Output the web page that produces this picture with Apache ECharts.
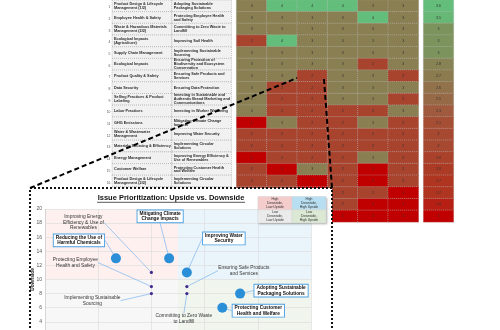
<!DOCTYPE html>
<html><head><meta charset="utf-8">
<script src="https://cdn.jsdelivr.net/npm/echarts@6/dist/echarts.min.js"></script>
<style>html,body{margin:0;padding:0;background:#fff}#c{width:500px;height:330px}</style>
</head><body><div id="c"></div>
<script>
// ---------- DATA ----------
const rowNumbers = ['1','2','3','4','5','6','7','8','9','10','11','12','13','14','15','16','17','18','19'];
const issues = [
  'Product Design & Lifecycle\nManagement (1/2)',
  'Employee Health & Safety',
  'Waste & Hazardous Materials\nManagement (2/2)',
  'Ecological Impacts\n(Agriculture)',
  'Supply Chain Management',
  'Ecological Impacts',
  'Product Quality & Safety',
  'Data Security',
  'Selling Practices & Product\nLabeling',
  'Labor Practices',
  'GHG Emissions',
  'Water & Wastewater\nManagement',
  'Materials Sourcing & Efficiency',
  'Energy Management',
  'Customer Welfare',
  'Product Design & Lifecycle\nManagement (2/2)',
  '', '', ''
];
const solutions = [
  'Adopting Sustainable\nPackaging Solutions',
  'Protecting Employee Health\nand Safety',
  'Committing to Zero Waste to\nLandfill',
  'Improving Soil Health',
  'Implementing Sustainable\nSourcing',
  'Ensuring Protection of\nBiodiversity and Ecosystem\nConservation',
  'Ensuring Safe Products and\nServices',
  'Ensuring Data Protection',
  'Investing in Sustainable and\nAuthentic Brand Marketing and\nCommunications',
  'Investing in Worker Wellbeing',
  'Mitigating Climate Change\nImpacts',
  'Improving Water Security',
  'Implementing Circular\nSolutions',
  'Improving Energy Efficiency &\nUse of Renewables',
  'Protecting Customer Health\nand Welfare',
  'Implementing Circular\nSolutions',
  '', '', ''
];
const criteria = ['C1','C2','C3','C4','C5','C6'];
const ratings = [
  [3,4,4,4,3,3],
  [3,3,3,3,4,3],
  [3,3,3,3,3,3],
  [2,4,3,3,3,3],
  [3,3,3,3,3,3],
  [3,3,3,3,2,3],
  [3,3,2,3,3,2],
  [3,2,2,3,3,3],
  [3,2,2,3,3,2],
  [3,2,2,2,2,3],
  [1,3,2,2,3,2],
  [2,2,2,2,2,2],
  [2,2,2,2,2,2],
  [1,2,2,2,3,2],
  [2,1,3,2,1,2],
  [2,2,1,2,1,2],
  [2,2,1,2,2,1],
  [2,1,1,2,1,1],
  [1,1,1,1,1,1]
];
const scores = [3.6,3.5,3,3,3,2.8,2.7,2.6,2.5,2.3,2.1,2,2,1.9,1.8,1.7,1.7,1.4,1];

const keyNames = ['Reducing the Use of\nHarmful Chemicals','Mitigating Climate\nChange Impacts','Improving Water\nSecurity','Adopting Sustainable\nPackaging Solutions','Protecting Customer\nHealth and Welfare'];
const keyUpside = [4,7,8,11,10];
const keyDownside = [13,13,11,8,6];

const otherNames = ['Improving Energy\nEfficiency & Use of\nRenewables','Protecting Employee\nHealth and Safety','Implementing Sustainable\nSourcing','Ensuring Safe Products\nand Services','Committing to Zero Waste\nto Landfill'];
const otherUpside = [6,6,6,8,8];
const otherDownside = [11,9,8,9,8];

const upsideRange = [0,15];
const downsideRange = [0,20];
const upsideSplit = 7.5;
const downsideSplit = 10;

const quadrantLabels = ['High\nDownside,\nLow Upside','High\nDownside,\nHigh Upside','Low\nDownside,\nLow Upside','Low\nDownside,\nHigh Upside'];

// ---------- LAYOUT / STYLE ----------
const FONT = '"Liberation Sans", Arial, sans-serif';
const keyLabelShift = [[-37,-18],[-9,-42],[37,-34],[41,-3],[36,3]];
const otherLabelShift = [[-68,-50],[-76,-24],[-59,7],[57,-16],[-3,25]];
const quadrantColors = ['#fdf0ef','#eaf5fb','#f7f7f7','#f0f6ee'];
const legendColors = ['#f4cccc','#b8def1','#ebebeb','#dbe8d3'];

const tableData = [];
issues.forEach((_, i) => { tableData.push([0, i]); tableData.push([1, i]); });
const heatData = [];
ratings.forEach((r, i) => r.forEach((v, j) => heatData.push([j, i, v])));
const scoreData = scores.map((v, i) => [0, i, v]);
const quadData = [
  [upsideRange[0], downsideSplit, upsideSplit, downsideRange[1], 0],
  [upsideSplit, downsideSplit, upsideRange[1], downsideRange[1], 1],
  [upsideRange[0], downsideRange[0], upsideSplit, downsideSplit, 2],
  [upsideSplit, downsideRange[0], upsideRange[1], downsideSplit, 3]
];

const chart = echarts.init(document.getElementById('c'), null, {renderer: 'canvas'});

const hiddenCat = (gi, data) => ({type:'category', gridIndex: gi, data, show:false});

// legend graphic
const lgX = 258, lgY = 196.5, lgW = 34, lgH = 13.3;
const legendEls = [];
legendEls.push({type:'rect', z:29, shape:{x:lgX, y:lgY, width:lgW*2, height:lgH*2},
  style:{fill:'#fff', shadowBlur:2, shadowColor:'rgba(0,0,0,0.35)', shadowOffsetX:1, shadowOffsetY:1}});
quadrantLabels.forEach((t, k) => {
  const cx = lgX + (k % 2) * lgW, cy = lgY + Math.floor(k / 2) * lgH;
  legendEls.push({type:'rect', z:30, shape:{x:cx, y:cy, width:lgW, height:lgH}, style:{fill:legendColors[k], stroke:'#d0d0d0', lineWidth:0.4}});
  legendEls.push({type:'text', z:31, x:cx + lgW/2, y:cy + lgH/2,
    style:{text:t, align:'center', verticalAlign:'middle', fontSize:3.4, lineHeight:3.9, fontFamily:FONT, fill:'#333'}});
});

const option = {
  animation: false,
  backgroundColor: '#fff',
  grid: [
    {left:112, top:0, width:119.5, height:222, outerBoundsMode:'none'},
    {left:236.5, top:0, width:182, height:222, outerBoundsMode:'none'},
    {left:423.5, top:0, width:30, height:222, outerBoundsMode:'none'},
    {left:45, top:209, width:266, height:141, outerBoundsMode:'none'}
  ],
  xAxis: [
    hiddenCat(0, ['Issue','Solution']),
    hiddenCat(1, criteria),
    hiddenCat(2, ['Score']),
    {type:'value', gridIndex:3, min:upsideRange[0], max:upsideRange[1], interval:3, z:12,
      axisLine:{show:false}, axisTick:{show:false}, axisLabel:{show:false},
      splitLine:{show:true, lineStyle:{color:'#dedede', width:0.7}}}
  ],
  yAxis: [
    {type:'category', gridIndex:0, data:rowNumbers, inverse:true,
      axisLine:{show:false}, axisTick:{show:false},
      axisLabel:{fontSize:3.4, color:'#555', margin:1.5, fontFamily:FONT, verticalAlign:'top'}},
    {type:'category', gridIndex:1, data:rowNumbers, inverse:true, show:false},
    {type:'category', gridIndex:2, data:rowNumbers, inverse:true, show:false},
    {type:'value', gridIndex:3, min:downsideRange[0], max:downsideRange[1], interval:2, z:12,
      name:'Downside', nameLocation:'middle', nameGap:10, nameRotate:90, nameMoveOverlap:false,
      nameTextStyle:{fontSize:4.8, fontWeight:'bold', color:'#222', fontFamily:FONT},
      axisLine:{show:true, lineStyle:{color:'#cfcfcf', width:0.7}}, axisTick:{show:false},
      axisLabel:{fontSize:5, color:'#555', margin:3, fontFamily:FONT},
      splitLine:{show:true, lineStyle:{color:'#dedede', width:0.7}}}
  ],
  visualMap: [
    {type:'continuous', show:false, seriesIndex:1, dimension:2, min:1, max:4,
      inRange:{color:['#c00000','#a8432e','#8a7f52','#63be7b']}},
    {type:'continuous', show:false, seriesIndex:2, dimension:2, min:1, max:3.6,
      inRange:{color:['#c00000','#b0321f','#a05a3e','#7f8f5a','#63be7b']}}
  ],
  series: [
    {type:'custom', xAxisIndex:0, yAxisIndex:0, data:tableData, silent:true,
      renderItem: (params, api) => {
        const col = api.value(0), row = api.value(1);
        const c = api.coord([col, row]);
        const s = api.size([1, 1]);
        const txt = col === 0 ? issues[row] : solutions[row];
        return {type:'group', children:[
          {type:'rect', shape:{x:c[0]-s[0]/2, y:c[1]-s[1]/2, width:s[0], height:s[1]},
            style:{fill:'#f1f1f1', stroke:'#9a9a9a', lineWidth:0.5, lineDash:[1,1]}},
          {type:'text', x:c[0]-s[0]/2+2, y:c[1],
            style:{text:txt, align:'left', verticalAlign:'middle', fontSize:3.8, fontWeight:'bold',
              lineHeight:3.9, fontFamily:FONT, fill:'#2a2a2a'}}
        ]};
      }},
    {type:'heatmap', xAxisIndex:1, yAxisIndex:1, data:heatData, silent:true,
      label:{show:true, fontSize:3.6, color:'#333', fontFamily:FONT},
      itemStyle:{borderColor:'rgba(190,190,190,0.9)', borderWidth:0.6, borderType:[1,1]}},
    {type:'heatmap', xAxisIndex:2, yAxisIndex:2, data:scoreData, silent:true,
      label:{show:true, fontSize:3.6, color:'#333', fontFamily:FONT},
      itemStyle:{borderColor:'rgba(190,190,190,0.9)', borderWidth:0.6, borderType:[1,1]}},
    {type:'custom', xAxisIndex:3, yAxisIndex:3, data:quadData, silent:true, z:11,
      renderItem: (params, api) => {
        const p0 = api.coord([api.value(0), api.value(3)]);
        const p1 = api.coord([api.value(2), api.value(1)]);
        return {type:'rect', shape:{x:p0[0], y:p0[1], width:p1[0]-p0[0], height:p1[1]-p0[1]},
          style:{fill:quadrantColors[api.value(4)]}};
      }},
    {type:'scatter', name:'Key', xAxisIndex:3, yAxisIndex:3, z:20, silent:true,
      symbolSize:10, itemStyle:{color:'#2b8fd8', opacity:1},
      data: keyNames.map((n, i) => ({name:n, value:[keyUpside[i], keyDownside[i]]})),
      label:{show:true, position:'inside', formatter:p => p.name, fontSize:4.8, fontWeight:'bold',
        lineHeight:5.2, color:'#111', fontFamily:FONT, backgroundColor:'#fff',
        borderColor:'#4a9fe0', borderWidth:0.9, padding:[1,2,0.5,2], align:'center'},
      labelLine:{show:true, lineStyle:{color:'#7db4ee', width:0.7}},
      labelLayout: p => ({dx:keyLabelShift[p.dataIndex][0], dy:keyLabelShift[p.dataIndex][1]})},
    {type:'scatter', name:'Other', xAxisIndex:3, yAxisIndex:3, z:20, silent:true,
      symbolSize:3.2, itemStyle:{color:'#3f2a8c', opacity:1},
      data: otherNames.map((n, i) => ({name:n, value:[otherUpside[i], otherDownside[i]]})),
      label:{show:true, position:'inside', formatter:p => p.name, fontSize:4.9,
        lineHeight:5.3, color:'#333', fontFamily:FONT, align:'center'},
      labelLine:{show:true, lineStyle:{color:'#7db4ee', width:0.7}},
      labelLayout: p => ({dx:otherLabelShift[p.dataIndex][0], dy:otherLabelShift[p.dataIndex][1]})}
  ],
  graphic: [
    {type:'rect', z:10, silent:true, shape:{x:30, y:188, width:302, height:170},
      style:{fill:'#fff', stroke:'#111', lineWidth:2, lineDash:[2,2]}},
    {type:'text', z:30, x:171, y:198,
      style:{text:'Issue Prioritization: Upside vs. Downside', align:'center', verticalAlign:'middle',
        fontSize:7.5, fontWeight:'bold', fontFamily:FONT, fill:'#111'}},
    {type:'line', z:30, shape:{x1:97, y1:202.3, x2:245, y2:202.3}, style:{stroke:'#111', lineWidth:0.7}},
    ...legendEls,
    {type:'line', z:50, shape:{x1:30, y1:188, x2:297, y2:78}, style:{stroke:'#000', lineWidth:2, lineDash:[5,3]}},
    {type:'line', z:50, shape:{x1:324, y1:79, x2:332, y2:188}, style:{stroke:'#000', lineWidth:2, lineDash:[5,3]}}
  ]
};
chart.setOption(option);
</script></body></html>
